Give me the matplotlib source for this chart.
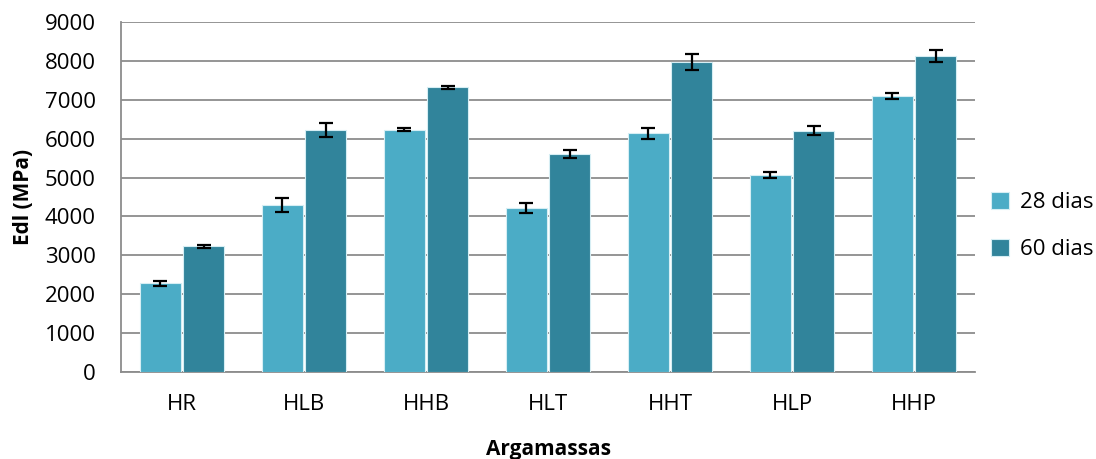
import numpy as np
import matplotlib
matplotlib.use("Agg")
import matplotlib.pyplot as plt

# Data

categories = ["HR", "HLB", "HHB", "HLT", "HHT", "HLP", "HHP"]
edl_28 = [2280, 4300, 6235, 4215, 6135, 5065, 7100]
err_28 = [60, 175, 45, 130, 130, 75, 85]
edl_60 = [3235, 6220, 7320, 5610, 7965, 6205, 8125]
err_60 = [40, 175, 35, 95, 210, 120, 160]

plt.rcParams["font.family"] = ["Open Sans", "DejaVu Sans"]

fig = plt.figure(figsize=(10.96, 4.59), dpi=100)
ax = fig.add_axes([0.1104, 0.1895, 0.7792, 0.7625])

x = np.arange(len(categories))
w = 0.33
ax.bar(x - w / 2 - 0.012, edl_28, w, color="#4BACC6", edgecolor="#D6EEF4", linewidth=0.8,
       yerr=err_28, capsize=5, error_kw=dict(ecolor="black", elinewidth=1.6, capthick=1.6),
       label="28 dias", zorder=3)
ax.bar(x + w / 2 + 0.012, edl_60, w, color="#31849B", edgecolor="#D6EEF4", linewidth=0.8,
       yerr=err_60, capsize=5, error_kw=dict(ecolor="black", elinewidth=1.6, capthick=1.6),
       label="60 dias", zorder=3)

ax.set_ylim(0, 9000)
ax.set_xlim(-0.5, len(categories) - 0.5)
ax.set_yticks(np.arange(0, 9001, 1000))
ax.set_xticks(x)
ax.set_xticklabels(categories)
ax.tick_params(axis="both", length=0, labelsize=16)
ax.tick_params(axis="y", pad=18)
ax.tick_params(axis="x", pad=16)

ax.grid(axis="y", color="#8C8C8C", linewidth=1.3, zorder=0)
for side in ["top", "right"]:
    ax.spines[side].set_visible(False)
ax.spines["left"].set_color("#8C8C8C")
ax.spines["bottom"].set_color("#8C8C8C")
ax.spines["left"].set_linewidth(1.3)
ax.spines["bottom"].set_linewidth(1.3)

ax.set_xlabel("Argamassas", fontsize=15, fontweight="bold", labelpad=17)
ax.set_ylabel("Edl (MPa)", fontsize=15, fontweight="bold", labelpad=8)

ax.legend(loc="center left", bbox_to_anchor=(0.995, 0.417), frameon=False, fontsize=16,
          handlelength=0.8, handleheight=0.8, handletextpad=0.5, labelspacing=1.15)

fig.savefig("out.png", dpi=100)
